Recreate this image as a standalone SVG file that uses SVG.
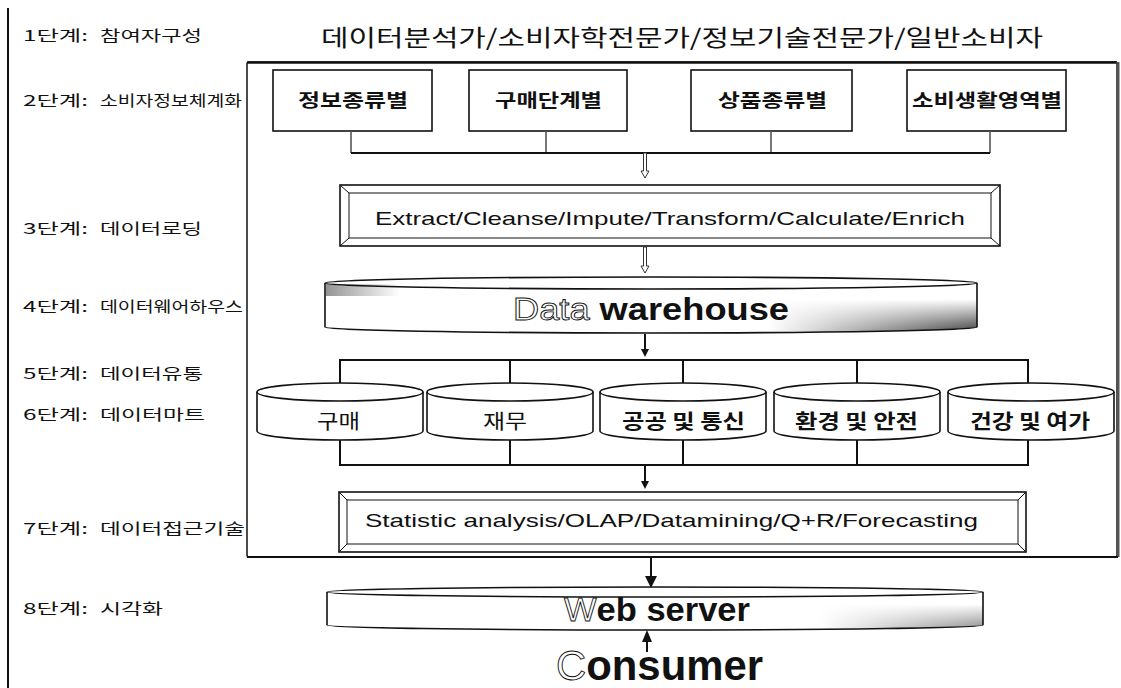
<svg xmlns="http://www.w3.org/2000/svg" width="1121" height="688" viewBox="0 0 1121 688">
<style>
.kr{font-family:"Noto Sans CJK KR","Noto Sans",sans-serif;fill:#111}
.lb{font-size:15px}
.bx{font-size:18px;font-weight:bold}
.cl{font-size:20px}
.en{font-family:"Liberation Sans",Arial,sans-serif;fill:#111}
.box{fill:#fff;stroke:#111;stroke-width:1.6}
.in{fill:none;stroke:#111;stroke-width:1}
.ln{fill:none;stroke:#111;stroke-width:2}
.thin{fill:none;stroke:#555;stroke-width:1.6}
.cyl{fill:#fff;stroke:#111;stroke-width:1.6}
.edge{fill:none;stroke:#111;stroke-width:1.6}
.hollow{fill:#fff;stroke:#111;stroke-width:0.9}
.harrow{fill:#fff;stroke:#333;stroke-width:1}
.sarrow{fill:#111;stroke:none}
</style>
<defs>
<linearGradient id="gH" x1="0" y1="0" x2="1" y2="0"><stop offset="0.68" stop-color="#fff"/><stop offset="1" stop-color="#3a3a3a"/></linearGradient>
<linearGradient id="gH2" x1="0" y1="0" x2="1" y2="0"><stop offset="0.75" stop-color="#fff"/><stop offset="1" stop-color="#8a8a8a"/></linearGradient>
<linearGradient id="gV" x1="0" y1="0" x2="0" y2="1"><stop offset="0" stop-color="#fff" stop-opacity="1"/><stop offset="0.4" stop-color="#fff" stop-opacity="1"/><stop offset="1" stop-color="#fff" stop-opacity="0"/></linearGradient>
<linearGradient id="gL" x1="0" y1="0" x2="1" y2="0"><stop offset="0" stop-color="#888" stop-opacity="0.9"/><stop offset="1" stop-color="#888" stop-opacity="0"/></linearGradient>
</defs>
<rect width="1121" height="688" fill="#fff"/>
<line x1="8" y1="8" x2="8" y2="688" stroke="#111" stroke-width="2"/>

<g id="stage-labels">
<g id="stage1"><text class="kr lb" x="23" y="41" textLength="65" lengthAdjust="spacingAndGlyphs">1단계:</text><text class="kr lb" x="100" y="41" textLength="102" lengthAdjust="spacingAndGlyphs">참여자구성</text></g>
<g id="stage2"><text class="kr lb" x="23" y="106" textLength="65" lengthAdjust="spacingAndGlyphs">2단계:</text><text class="kr lb" x="100" y="106" textLength="142" lengthAdjust="spacingAndGlyphs">소비자정보체계화</text></g>
<g id="stage3"><text class="kr lb" x="23" y="234" textLength="65" lengthAdjust="spacingAndGlyphs">3단계:</text><text class="kr lb" x="100" y="234" textLength="102" lengthAdjust="spacingAndGlyphs">데이터로딩</text></g>
<g id="stage4"><text class="kr lb" x="23" y="312" textLength="65" lengthAdjust="spacingAndGlyphs">4단계:</text><text class="kr lb" x="100" y="312" textLength="143" lengthAdjust="spacingAndGlyphs">데이터웨어하우스</text></g>
<g id="stage5"><text class="kr lb" x="23" y="379" textLength="65" lengthAdjust="spacingAndGlyphs">5단계:</text><text class="kr lb" x="100" y="379" textLength="103" lengthAdjust="spacingAndGlyphs">데이터유통</text></g>
<g id="stage6"><text class="kr lb" x="23" y="420" textLength="65" lengthAdjust="spacingAndGlyphs">6단계:</text><text class="kr lb" x="100" y="420" textLength="105" lengthAdjust="spacingAndGlyphs">데이터마트</text></g>
<g id="stage7"><text class="kr lb" x="23" y="534" textLength="65" lengthAdjust="spacingAndGlyphs">7단계:</text><text class="kr lb" x="100" y="534" textLength="145" lengthAdjust="spacingAndGlyphs">데이터접근기술</text></g>
<g id="stage8"><text class="kr lb" x="23" y="614" textLength="65" lengthAdjust="spacingAndGlyphs">8단계:</text><text class="kr lb" x="100" y="614" textLength="63" lengthAdjust="spacingAndGlyphs">시각화</text></g>
</g>

<g id="title"><text class="kr" x="321" y="46" font-size="23" textLength="722" lengthAdjust="spacingAndGlyphs">데이터분석가/소비자학전문가/정보기술전문가/일반소비자</text></g>

<g id="frame">
<rect x="247" y="62" width="870" height="495" rx="2" fill="none" stroke="#111" stroke-width="1.5"/>
<line x1="247" y1="62.5" x2="1117" y2="62.5" stroke="#111" stroke-width="2.5"/>
<line x1="1118" y1="62" x2="1118" y2="557" stroke="#555" stroke-width="3"/>
<line x1="247" y1="557" x2="1118" y2="557" stroke="#111" stroke-width="2.2"/>
</g>

<g id="box-info"><rect class="box" x="273" y="70" width="159" height="61"/><text class="kr bx" x="298" y="107" textLength="110" lengthAdjust="spacingAndGlyphs">정보종류별</text></g>
<g id="box-purchase"><rect class="box" x="469" y="70" width="158" height="61"/><text class="kr bx" x="495" y="107" textLength="107" lengthAdjust="spacingAndGlyphs">구매단계별</text></g>
<g id="box-product"><rect class="box" x="691" y="70" width="161" height="61"/><text class="kr bx" x="718" y="107" textLength="109" lengthAdjust="spacingAndGlyphs">상품종류별</text></g>
<g id="box-life"><rect class="box" x="907" y="70" width="159" height="61"/><text class="kr bx" x="912" y="107" textLength="150" lengthAdjust="spacingAndGlyphs">소비생활영역별</text></g>

<g id="etl">
<rect class="box" x="340" y="185" width="660" height="61" stroke-width="2"/>
<rect class="in" x="349" y="193" width="642" height="45"/>
<path class="in" d="M340,185 L349,193 M1000,185 L991,193 M340,246 L349,238 M1000,246 L991,238"/>
<text class="en" x="375" y="225" font-size="19" textLength="590" lengthAdjust="spacingAndGlyphs">Extract/Cleanse/Impute/Transform/Calculate/Enrich</text>
</g>

<g id="warehouse">
<path d="M325,283 A326,6 0 0 1 977,283 L977,327 A326,6 0 0 1 325,327 Z" fill="url(#gH)"/>
<path d="M325,283 A326,6 0 0 1 977,283 L977,327 A326,6 0 0 1 325,327 Z" fill="url(#gV)"/>
<path d="M326,284 A326,6 0 0 0 976,284 L976,292 L326,292 Z" fill="#fff"/>
<path d="M326,284 L400,284 L400,296 L326,296 Z" fill="url(#gL)"/>
<path class="edge" d="M325,283 A326,6 0 0 1 977,283 L977,327 A326,6 0 0 1 325,327 Z"/>
<path class="edge" d="M325,283 A326,6 0 0 0 977,283"/>
<text class="en" x="513" y="320" font-size="32" textLength="276" lengthAdjust="spacingAndGlyphs"><tspan class="hollow">Data</tspan> <tspan font-weight="bold">warehouse</tspan></text>
</g>

<g id="mart-purchase"><path class="cyl" d="M257,392 A83,9 0 0 1 423,392 L423,431 A83,9 0 0 1 257,431 Z"/><path class="edge" d="M257,392 A83,9 0 0 0 423,392"/><text class="kr cl" x="317" y="429" textLength="43" lengthAdjust="spacingAndGlyphs">구매</text></g>
<g id="mart-finance"><path class="cyl" d="M427,392 A83,9 0 0 1 593,392 L593,431 A83,9 0 0 1 427,431 Z"/><path class="edge" d="M427,392 A83,9 0 0 0 593,392"/><text class="kr cl" x="483" y="429" textLength="44" lengthAdjust="spacingAndGlyphs">재무</text></g>
<g id="mart-public"><path class="cyl" d="M600,392 A83,9 0 0 1 766,392 L766,431 A83,9 0 0 1 600,431 Z"/><path class="edge" d="M600,392 A83,9 0 0 0 766,392"/><text class="kr cl" x="622" y="429" font-weight="bold" textLength="123" lengthAdjust="spacingAndGlyphs">공공 및 통신</text></g>
<g id="mart-environment"><path class="cyl" d="M774,392 A83,9 0 0 1 940,392 L940,431 A83,9 0 0 1 774,431 Z"/><path class="edge" d="M774,392 A83,9 0 0 0 940,392"/><text class="kr cl" x="795" y="429" font-weight="bold" textLength="123" lengthAdjust="spacingAndGlyphs">환경 및 안전</text></g>
<g id="mart-health"><path class="cyl" d="M948,392 A83,9 0 0 1 1114,392 L1114,431 A83,9 0 0 1 948,431 Z"/><path class="edge" d="M948,392 A83,9 0 0 0 1114,392"/><text class="kr cl" x="970" y="429" font-weight="bold" textLength="120" lengthAdjust="spacingAndGlyphs">건강 및 여가</text></g>

<g id="access">
<rect class="box" x="339" y="492" width="687" height="60" stroke-width="2"/>
<rect class="in" x="347" y="500" width="671" height="44"/>
<path class="in" d="M339,492 L347,500 M1026,492 L1018,500 M339,552 L347,544 M1026,552 L1018,544"/>
<text class="en" x="365" y="527" font-size="19" textLength="613" lengthAdjust="spacingAndGlyphs">Statistic analysis/OLAP/Datamining/Q+R/Forecasting</text>
</g>

<g id="webserver">
<path d="M327,592 A328,5 0 0 1 983,592 L983,625 A328,5 0 0 1 327,625 Z" fill="url(#gH2)"/>
<path d="M327,592 A328,5 0 0 1 983,592 L983,625 A328,5 0 0 1 327,625 Z" fill="url(#gV)"/>
<path class="edge" d="M327,592 A328,5 0 0 1 983,592 L983,625 A328,5 0 0 1 327,625 Z"/>
<path class="edge" d="M327,592 A328,5 0 0 0 983,592"/>
<text class="en" x="564" y="621" font-size="34" textLength="186" lengthAdjust="spacingAndGlyphs"><tspan class="hollow">W</tspan><tspan font-weight="bold">eb server</tspan></text>
</g>

<g id="consumer"><text class="en" x="556" y="680" font-size="42" textLength="207" lengthAdjust="spacingAndGlyphs"><tspan class="hollow">C</tspan><tspan font-weight="bold">onsumer</tspan></text></g>

<g id="connectors">
<path class="thin" d="M351,131 V153 M546,131 V153 M771,131 V153 M990,131 V153"/>
<path class="ln" d="M351,153 H990"/>
<path class="harrow" d="M643.5,153 V171 H641 L645,178 L649,171 H646.5 V153 Z"/>
<path class="harrow" d="M643.5,247 V266 H641 L645,273 L649,266 H646.5 V247 Z"/>
<path class="ln" d="M645,334 V350"/>
<path class="sarrow" d="M641,349 H649 L645,357 Z"/>
<path class="ln" d="M340,383 V360 H1028 V383 M510,360 V383 M683,360 V383 M857,360 V383"/>
<path class="ln" d="M340,440 V465 H1028 V440 M510,440 V465 M683,440 V465 M857,440 V465"/>
<path class="ln" d="M645,465 V482"/>
<path class="sarrow" d="M641,481 H649 L645,489 Z"/>
<path class="ln" d="M651,557 V578" stroke-width="4"/>
<path class="sarrow" d="M645,576 H657 L651,588 Z"/>
<path class="ln" d="M647,641 V652" stroke-width="3"/>
<path class="sarrow" d="M642,642 H652 L647,630 Z"/>
</g>
</svg>
